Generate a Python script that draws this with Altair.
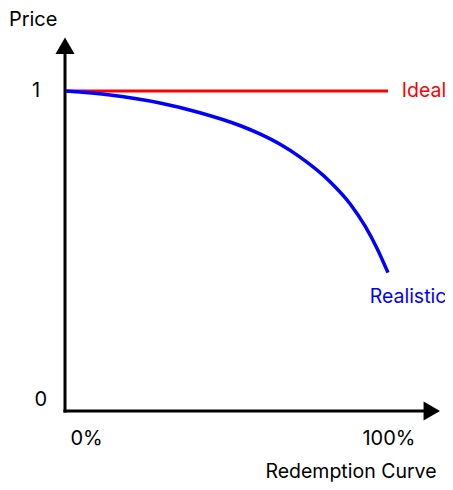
import altair as alt
import pandas as pd

# Redemption fraction (%) and price
redemption_pct = [0, 13.7, 29.2, 41.6, 54.0, 60.2, 66.5, 72.7, 82.0, 88.2, 92.9, 96.6, 100]
realistic_price = [1.0, 0.9875, 0.9625, 0.9322, 0.8922, 0.8659, 0.8334, 0.7934, 0.7166, 0.6478, 0.5775, 0.5081, 0.4325]
ideal_pct = [0, 100]
ideal_price = [1.0, 1.0]

# Annotation texts
label_text = ["Price", "1", "0", "0%", "100%", "Redemption Curve", "Ideal", "Realistic"]
label_x = [-10.2, -9.3, -7.8, 6.4, 100.3, 88.5, 104.3, 94.3]
label_y = [1.222, 1.0, 0.034, -0.0875, -0.0875, -0.19, 1.0, 0.355]
label_color = ["#000000", "#000000", "#000000", "#000000", "#000000", "#000000", "#ff0000", "#0000ff"]
label_align = ["center", "center", "center", "center", "center", "center", "left", "left"]
label_size = [20, 20, 20, 20, 20, 19.5, 19.5, 19.5]

# Axis lines (in data units) and arrow heads
axis_x0, axis_x1 = -0.8, 113.0
axis_y0, axis_y1 = -0.005, 1.14
axis_at_x, axis_at_y = -0.31, 0.0
arrow_x = [-0.31, 113.6]
arrow_y = [1.1416, 0.0]
arrow_shape = ["triangle-up", "triangle-right"]

xs = alt.Scale(domain=[0, 100], range=[58, 380], nice=False, zero=False)
ys = alt.Scale(domain=[0, 1], range=[403, 83], nice=False, zero=False)

real_df = pd.DataFrame({"x": redemption_pct, "y": realistic_price})
ideal_df = pd.DataFrame({"x": ideal_pct, "y": ideal_price})
lab_df = pd.DataFrame({"text": label_text, "x": label_x, "y": label_y,
                       "color": label_color, "align": label_align, "size": label_size})
arrow_df = pd.DataFrame({"x": arrow_x, "y": arrow_y, "shape": arrow_shape})
hax_df = pd.DataFrame({"x": [axis_x0], "x2": [axis_x1], "y": [axis_at_y]})
vax_df = pd.DataFrame({"x": [axis_at_x], "y": [axis_y0], "y2": [axis_y1]})

hax = alt.Chart(hax_df).mark_rule(color="black", strokeWidth=3).encode(
    x=alt.X("x:Q", scale=xs, axis=None), x2="x2:Q", y=alt.Y("y:Q", scale=ys, axis=None)
)
vax = alt.Chart(vax_df).mark_rule(color="black", strokeWidth=3).encode(
    x=alt.X("x:Q", scale=xs), y=alt.Y("y:Q", scale=ys), y2="y2:Q"
)

ideal = alt.Chart(ideal_df).mark_line(stroke="#ff0000", strokeWidth=3).encode(
    x=alt.X("x:Q", scale=xs),
    y=alt.Y("y:Q", scale=ys),
)

real = alt.Chart(real_df).mark_line(stroke="#0000ff", strokeWidth=3.5, interpolate="monotone").encode(
    x=alt.X("x:Q", scale=xs),
    y=alt.Y("y:Q", scale=ys),
)

arrows = alt.Chart(arrow_df).mark_point(filled=True, color="black", opacity=1, size=361).encode(
    x=alt.X("x:Q", scale=xs),
    y=alt.Y("y:Q", scale=ys),
    shape=alt.Shape("shape:N", scale=None),
)

def text_layer(align):
    d = lab_df[lab_df["align"] == align]
    return alt.Chart(d).mark_text(font="Inter", align=align, baseline="middle").encode(
        x=alt.X("x:Q", scale=xs),
        y=alt.Y("y:Q", scale=ys),
        text="text:N",
        color=alt.Color("color:N", scale=None),
        size=alt.Size("size:Q", scale=None),
    )

chart = alt.layer(hax, vax, ideal, real, arrows, text_layer("center"), text_layer("left")).properties(
    width=437, height=474, padding=0, autosize=alt.AutoSizeParams(type="none")
).configure_view(stroke=None)

chart.save("out.html", embed_options={"renderer": "svg", "actions": False})
